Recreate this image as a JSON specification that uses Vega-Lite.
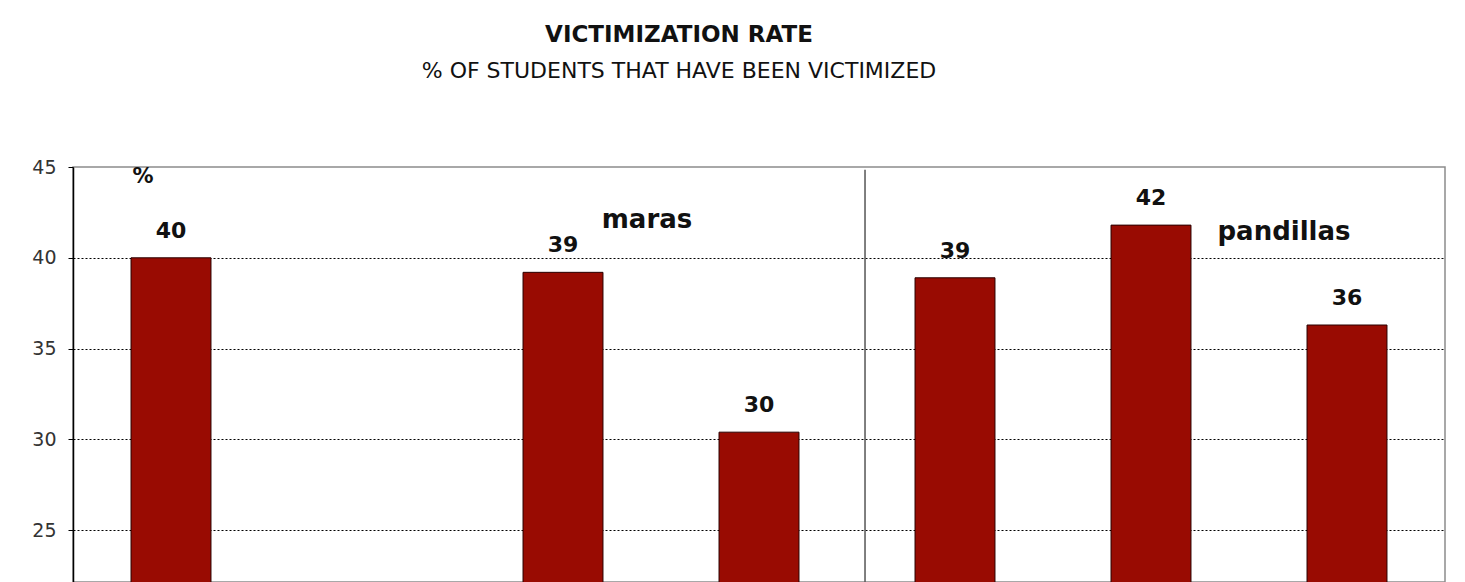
{
  "$schema": "https://vega.github.io/schema/vega-lite/v6.json",
  "autosize": "none",
  "width": 1372,
  "height": 415,
  "padding": {"left": 73, "top": 167, "right": 20, "bottom": 0},
  "background": "white",
  "title": {
    "text": "VICTIMIZATION RATE",
    "subtitle": "% OF STUDENTS THAT HAVE BEEN VICTIMIZED",
    "anchor": "middle",
    "dx": -80,
    "offset": 76,
    "font": "DejaVu Sans",
    "fontSize": 23,
    "fontWeight": "bold",
    "color": "#111",
    "subtitleFont": "DejaVu Sans",
    "subtitleFontSize": 22,
    "subtitleColor": "#111",
    "subtitlePadding": 14
  },
  "config": {
    "view": {"stroke": "#8c8c8c", "strokeWidth": 1.5},
    "font": "DejaVu Sans"
  },
  "datasets": {
    "bars": [
      {"cat": "A", "pct": 40.0},
      {"cat": "B", "pct": null},
      {"cat": "C", "pct": 39.2},
      {"cat": "D", "pct": 30.4},
      {"cat": "E", "pct": 38.9},
      {"cat": "F", "pct": 41.8},
      {"cat": "G", "pct": 36.3}
    ]
  },
  "layer": [
    {
      "data": {"name": "bars"},
      "mark": {"type": "bar", "fill": "#990b02", "stroke": "#2a0000", "strokeWidth": 1, "clip": true},
      "encoding": {
        "x": {
          "field": "cat",
          "type": "nominal",
          "sort": null,
          "scale": {"domain": ["A", "B", "C", "D", "E", "F", "G"], "paddingInner": 0.592, "paddingOuter": 0.296},
          "axis": null
        },
        "y": {
          "field": "pct",
          "type": "quantitative",
          "scale": {"domain": [22.15, 45], "nice": false, "zero": false},
          "axis": {
            "values": [25, 30, 35, 40, 45],
            "title": null,
            "domainColor": "#000",
            "domainWidth": 1.5,
            "tickColor": "#000",
            "tickSize": 5,
            "tickWidth": 1,
            "labelFont": "DejaVu Sans",
            "labelFontSize": 19,
            "labelColor": "#333",
            "labelPadding": 12,
            "gridColor": "#000",
            "gridDash": [2, 2],
            "gridWidth": 1,
            "gridOpacity": {"condition": {"test": "datum.value === 45", "value": 0}, "value": 1}
          }
        },
        "y2": {"datum": 0}
      }
    },
    {
      "data": {"name": "bars"},
      "transform": [{"filter": "isValid(datum.pct)"}],
      "mark": {"type": "text", "font": "DejaVu Sans", "fontSize": 22, "fontWeight": "bold", "color": "#111", "baseline": "alphabetic", "dy": -20},
      "encoding": {
        "x": {"field": "cat", "type": "nominal", "sort": null},
        "y": {"field": "pct", "type": "quantitative"},
        "text": {"field": "pct", "type": "quantitative", "format": ".0f"}
      }
    },
    {
      "data": {"values": [{"cat": "E", "top": 44.85, "bottom": 22.15}]},
      "mark": {"type": "rule", "color": "#555", "strokeWidth": 1.5, "xOffset": -50},
      "encoding": {
        "x": {"field": "cat", "type": "nominal", "bandPosition": 0},
        "y": {"field": "top", "type": "quantitative"},
        "y2": {"field": "bottom"}
      }
    },
    {
      "data": {"values": [{"cat": "A", "v": 44.45, "note": "%"}]},
      "mark": {"type": "text", "font": "DejaVu Sans", "fontSize": 21, "fontWeight": "bold", "color": "#111", "baseline": "middle", "dx": -28},
      "encoding": {
        "x": {"field": "cat", "type": "nominal"},
        "y": {"field": "v", "type": "quantitative"},
        "text": {"field": "note"}
      }
    },
    {
      "data": {"values": [{"cat": "C", "v": 41.65, "note": "maras"}]},
      "mark": {"type": "text", "font": "DejaVu Sans", "fontSize": 26, "fontWeight": "bold", "color": "#111", "baseline": "alphabetic", "dx": 84},
      "encoding": {
        "x": {"field": "cat", "type": "nominal"},
        "y": {"field": "v", "type": "quantitative"},
        "text": {"field": "note"}
      }
    },
    {
      "data": {"values": [{"cat": "G", "v": 41.0, "note": "pandillas"}]},
      "mark": {"type": "text", "font": "DejaVu Sans", "fontSize": 26, "fontWeight": "bold", "color": "#111", "baseline": "alphabetic", "dx": -63},
      "encoding": {
        "x": {"field": "cat", "type": "nominal"},
        "y": {"field": "v", "type": "quantitative"},
        "text": {"field": "note"}
      }
    }
  ]
}
